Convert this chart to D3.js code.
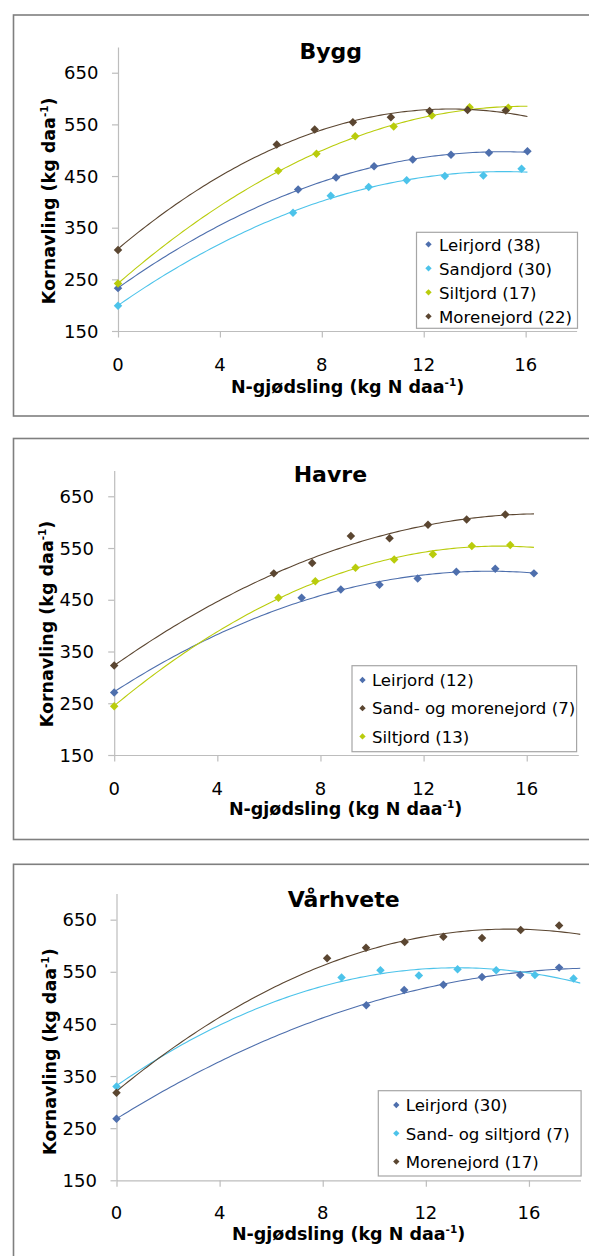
<!DOCTYPE html>
<html>
<head>
<meta charset="utf-8">
<script src="https://cdn.jsdelivr.net/npm/d3@7"></script>
<style>
  html, body { margin: 0; padding: 0; background: #fff; }
  svg { display: block; }
  text { font-family: "DejaVu Sans", Verdana, sans-serif; fill: #000; }
</style>
</head>
<body>
<svg id="chart" width="589" height="1256"></svg>
<script>
// ---- Axis definitions -------------------------------------------------
const nTicks = [0, 4, 8, 12, 16];
const yieldTicks = [150, 250, 350, 450, 550, 650];
const nDomain = [0, 18];
const yieldDomain = [150, 700];

const panelTitles = ["Bygg", "Havre", "Vårhvete"];
const trendEndN = [16.07, 16.28, 18];

// ---- Bygg -------------------------------------------------------------
const byggNames = ["Leirjord (38)", "Sandjord (30)", "Siltjord (17)", "Morenejord (22)"];
const byggLeirjordN = [0, 7.07, 8.56, 10.05, 11.57, 13.07, 14.56, 16.07];
const byggLeirjordYield = [233, 424, 447, 469, 482, 491, 495, 498];
const byggSandjordN = [0, 6.87, 8.35, 9.84, 11.33, 12.83, 14.34, 15.84];
const byggSandjordYield = [199, 379, 412, 429, 442, 450, 451, 464];
const byggSiltjordN = [0, 6.29, 7.79, 9.31, 10.82, 12.32, 13.80, 15.32];
const byggSiltjordYield = [242, 460, 493, 527, 546, 567, 583, 582];
const byggMorenejordN = [0, 6.23, 7.72, 9.22, 10.71, 12.23, 13.72, 15.22];
const byggMorenejordYield = [307, 511, 540, 554, 564, 576, 578, 577];

// ---- Havre ------------------------------------------------------------
const havreNames = ["Leirjord (12)", "Sand- og morenejord (7)", "Siltjord (13)"];
const havreLeirjordN = [0, 7.27, 8.79, 10.29, 11.77, 13.27, 14.78, 16.28];
const havreLeirjordYield = [271, 454, 470, 479, 491, 504, 510, 501];
const havreSandMoreneN = [0, 6.19, 7.68, 9.18, 10.68, 12.17, 13.67, 15.17];
const havreSandMoreneYield = [323, 501, 521, 573, 569, 595, 605, 615];
const havreSiltjordN = [0, 6.37, 7.80, 9.36, 10.86, 12.36, 13.87, 15.36];
const havreSiltjordYield = [244, 454, 486, 512, 528, 538, 554, 556];

// ---- Vårhvete ---------------------------------------------------------
const varhveteNames = ["Leirjord (30)", "Sand- og siltjord (7)", "Morenejord (17)"];
const varhveteLeirjordN = [0, 9.69, 11.16, 12.68, 14.18, 15.66, 17.17];
const varhveteLeirjordYield = [268, 486, 515, 525, 540, 544, 558];
const varhveteSandSiltN = [0, 8.73, 10.24, 11.73, 13.23, 14.73, 16.23, 17.73];
const varhveteSandSiltYield = [330, 539, 553, 543, 555, 553, 544, 537];
const varhveteMorenejordN = [0, 8.17, 9.68, 11.18, 12.68, 14.18, 15.68, 17.17];
const varhveteMorenejordYield = [318, 576, 596, 607, 617, 615, 630, 639];

// ---- Soil colours -----------------------------------------------------
const colLeir = "#4e6fad";
const colSand = "#4cc3ea";
const colSilt = "#b9cc0c";
const colMorene = "#5b4631";

function series(name, n, y, color) {
  return { name, color, points: n.map((v, i) => ({ n: v, y: y[i] })) };
}

const panelSeries = [
  [
    series(byggNames[0], byggLeirjordN, byggLeirjordYield, colLeir),
    series(byggNames[1], byggSandjordN, byggSandjordYield, colSand),
    series(byggNames[2], byggSiltjordN, byggSiltjordYield, colSilt),
    series(byggNames[3], byggMorenejordN, byggMorenejordYield, colMorene)
  ],
  [
    series(havreNames[0], havreLeirjordN, havreLeirjordYield, colLeir),
    series(havreNames[1], havreSandMoreneN, havreSandMoreneYield, colMorene),
    series(havreNames[2], havreSiltjordN, havreSiltjordYield, colSilt)
  ],
  [
    series(varhveteNames[0], varhveteLeirjordN, varhveteLeirjordYield, colLeir),
    series(varhveteNames[1], varhveteSandSiltN, varhveteSandSiltYield, colSand),
    series(varhveteNames[2], varhveteMorenejordN, varhveteMorenejordYield, colMorene)
  ]
];

// ---- Panel layout -----------------------------------------------------
const layout = [
  { frameTop: 15, frameBottom: 416, x0: 118, x1: 576.6, yTop: 46.9, yBot: 331,
    yLabelX: 98.4, xLabelY: 370.7, xTitleX: 347.6, xTitleY: 393.3,
    yTitleX: 54.5, yTitleY: 200.8, titleX: 330.7, titleY: 58.5,
    legend: { x: 416.5, y: 232.3, w: 161, h: 96, row0: 244.3, step: 24, mx: 428.5, tx: 439 } },
  { frameTop: 438.5, frameBottom: 839.5, x0: 114.2, x1: 578.3, yTop: 470.4, yBot: 755,
    yLabelX: 93.9, xLabelY: 795, xTitleX: 345.6, xTitleY: 815,
    yTitleX: 52.6, yTitleY: 624, titleX: 330.4, titleY: 481.7,
    legend: { x: 352, y: 665.7, w: 224.6, h: 86, row0: 680, step: 28.2, mx: 362.5, tx: 371.9 } },
  { frameTop: 864.3, frameBottom: 1275, x0: 116.5, x1: 580.5, yTop: 893.6, yBot: 1180.3,
    yLabelX: 96.9, xLabelY: 1219.3, xTitleX: 348.6, xTitleY: 1240,
    yTitleX: 56, yTitleY: 1051.7, titleX: 343.7, titleY: 907.3,
    legend: { x: 378.3, y: 1090.7, w: 202.8, h: 85.3, row0: 1105, step: 28.3, mx: 396.3, tx: 405.7 } }
];

// Least-squares second-order polynomial (Excel-style trendline)
function quadFit(pts) {
  let s0 = 0, s1 = 0, s2 = 0, s3 = 0, s4 = 0, t0 = 0, t1 = 0, t2 = 0;
  pts.forEach(p => {
    const x = p.n, y = p.y, x2 = x * x;
    s0 += 1; s1 += x; s2 += x2; s3 += x2 * x; s4 += x2 * x2;
    t0 += y; t1 += x * y; t2 += x2 * y;
  });
  const M = [[s0, s1, s2, t0], [s1, s2, s3, t1], [s2, s3, s4, t2]];
  for (let i = 0; i < 3; i++) {
    let piv = i;
    for (let r = i + 1; r < 3; r++) if (Math.abs(M[r][i]) > Math.abs(M[piv][i])) piv = r;
    [M[i], M[piv]] = [M[piv], M[i]];
    for (let r = 0; r < 3; r++) {
      if (r === i) continue;
      const f = M[r][i] / M[i][i];
      for (let c = i; c < 4; c++) M[r][c] -= f * M[i][c];
    }
  }
  const a = M[0][3] / M[0][0], b = M[1][3] / M[1][1], c = M[2][3] / M[2][2];
  return x => a + b * x + c * x * x;
}

const svg = d3.select("#chart");
const diamond = d3.symbol().type(d3.symbolSquare);

// unit text with a raised "-1"
function addUnitText(sel, main, tail) {
  sel.append("tspan").text(main);
  sel.append("tspan").attr("font-size", "60%").attr("dy", -7).text("-1");
  sel.append("tspan").attr("dy", 7).text(tail);
}

layout.forEach((L, pi) => {
  const g = svg.append("g");

  // outer frame (right edge runs past the page)
  g.append("rect")
    .attr("x", 13.5).attr("y", L.frameTop)
    .attr("width", 620).attr("height", L.frameBottom - L.frameTop)
    .attr("fill", "none").attr("stroke", "#7f7f7f").attr("stroke-width", 1.6);

  const x = d3.scaleLinear().domain(nDomain).range([L.x0, L.x1]);
  const y = d3.scaleLinear().domain(yieldDomain).range([L.yBot, L.yTop]);

  // axes
  const xAxis = g.append("g").attr("transform", `translate(0,${L.yBot})`)
    .call(d3.axisBottom(x).tickValues(nTicks).tickSizeInner(6.5).tickSizeOuter(0).tickPadding(0));
  const yAxis = g.append("g").attr("transform", `translate(${L.x0},0)`)
    .call(d3.axisLeft(y).tickValues(yieldTicks).tickSizeInner(6).tickSizeOuter(0));
  [xAxis, yAxis].forEach(a => {
    a.selectAll("path, line").attr("stroke", "#bdbdbd").attr("stroke-width", 1.2);
    a.selectAll("text").remove();
  });

  // tick labels
  g.selectAll(".xl").data(nTicks).join("text")
    .attr("x", d => x(d)).attr("y", L.xLabelY)
    .attr("text-anchor", "middle").attr("font-size", 18).text(d => d);
  g.selectAll(".yl").data(yieldTicks).join("text")
    .attr("x", L.yLabelX).attr("y", d => y(d) + 6.6)
    .attr("text-anchor", "end").attr("font-size", 18).text(d => d);

  // axis titles
  const xt = g.append("text").attr("x", L.xTitleX).attr("y", L.xTitleY)
    .attr("text-anchor", "middle").attr("font-size", 17.5).attr("font-weight", "bold");
  addUnitText(xt, "N-gjødsling (kg N daa", ")");
  const yt = g.append("text")
    .attr("transform", `translate(${L.yTitleX},${L.yTitleY}) rotate(-90)`)
    .attr("text-anchor", "middle").attr("font-size", 17.5).attr("font-weight", "bold");
  addUnitText(yt, "Kornavling (kg daa", ")");

  // chart title
  g.append("text").attr("x", L.titleX).attr("y", L.titleY)
    .attr("text-anchor", "middle").attr("font-size", 22).attr("font-weight", "bold")
    .text(panelTitles[pi]);

  // clip for trendlines
  const clipId = "clip" + pi;
  g.append("clipPath").attr("id", clipId).append("rect")
    .attr("x", L.x0).attr("y", L.yTop).attr("width", L.x1 - L.x0).attr("height", L.yBot - L.yTop);

  const list = panelSeries[pi];
  const line = d3.line().x(d => x(d[0])).y(d => y(d[1])).curve(d3.curveLinear);

  // trendlines
  list.forEach(s => {
    const f = quadFit(s.points);
    const xs = d3.range(0, 121).map(i => trendEndN[pi] * i / 120);
    g.append("path")
      .attr("clip-path", `url(#${clipId})`)
      .attr("d", line(xs.map(v => [v, f(v)])))
      .attr("fill", "none").attr("stroke", s.color).attr("stroke-width", 1.1);
  });

  // data markers
  list.forEach(s => {
    g.selectAll(null).data(s.points).join("path")
      .attr("d", diamond.size(36)())
      .attr("transform", d => `translate(${x(d.n)},${y(d.y)}) rotate(45)`)
      .attr("fill", s.color);
  });

  // legend
  const lg = L.legend;
  g.append("rect").attr("x", lg.x).attr("y", lg.y).attr("width", lg.w).attr("height", lg.h)
    .attr("fill", "#fff").attr("stroke", "#a6a6a6").attr("stroke-width", 1.2);
  list.forEach((s, i) => {
    const cy = lg.row0 + i * lg.step;
    g.append("path").attr("d", diamond.size(20)())
      .attr("transform", `translate(${lg.mx},${cy}) rotate(45)`).attr("fill", s.color);
    g.append("text").attr("x", lg.tx).attr("y", cy + 6.2)
      .attr("font-size", 16.6).text(s.name);
  });
});
</script>
</body>
</html>
